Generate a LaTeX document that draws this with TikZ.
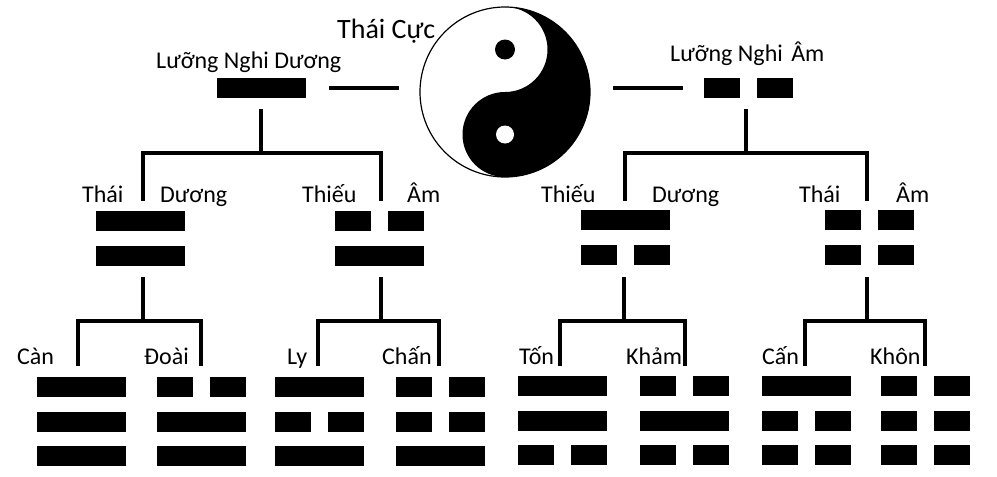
\documentclass[tikz,border=0pt]{standalone}
\usepackage{fontspec}
\setmainfont{Carlito}
\newcommand\xiangsym[3]{%
  \foreach \b [count=\i from 0] in {#3}{%
    \pgfmathsetmacro\yy{#2+\i*34.5}%
    \ifnum\b=1
      \fill (#1,\yy) rectangle ++(89,20);
    \else
      \fill (#1,\yy) rectangle ++(36,20);
      \fill ({#1+53},\yy) rectangle ++(36,20);
    \fi
  }}
\begin{document}
\begin{tikzpicture}[x=1pt,y=-1pt,
  lbl/.style={anchor=base west, inner sep=0pt, font=\fontsize{24}{28}\selectfont},
  biglbl/.style={anchor=base west, inner sep=0pt, font=\fontsize{28}{32}\selectfont},
  conn/.style={line width=3.5pt},
]
\fill[white] (0,0) rectangle (997,477);
\useasboundingbox (0,0) rectangle (997,477);

% Thai Cuc (yin-yang)
\begin{scope}[shift={(505,92)},yscale=-1]
  \fill[white] (0,0) circle[radius=85];
  \fill[black] (0,85) arc[start angle=90,end angle=-90,radius=85]
     arc[start angle=-90,end angle=-270,radius=42.5]
     arc[start angle=-90,end angle=90,radius=42.5] -- cycle;
  \fill[black] (0,42.5) circle[radius=10];
  \fill[white] (0,-42.5) circle[radius=9];
  \draw[line width=1.2pt] (0,0) circle[radius=85];
\end{scope}
\node[biglbl] (tclabel) at (337,38) {Thái Cực};

% Luong Nghi
\node[lbl] (lnd) at (156,68) {Lưỡng Nghi Dương};
\node[lbl] (lna) at (670,61) {Lưỡng Nghi\hspace{3pt} Âm};
\xiangsym{217}{78}{1}
\xiangsym{704}{78}{0}
\coordinate (dL1) at (329,88); \coordinate (dL2) at (399,88);
\coordinate (aL1) at (613,88); \coordinate (aL2) at (683,88);
\draw[conn] (dL1) -- (dL2);
\draw[conn] (aL1) -- (aL2);

% Level 1 -> 2 connectors
\coordinate (pD) at (261,109); \coordinate (jD) at (261,153);
\coordinate (cTD) at (143,201); \coordinate (cTA) at (381,201);
\draw[conn] (pD) -- (jD);
\draw[conn] (cTD) |- (jD) -| (cTA);
\coordinate (pA) at (746,109); \coordinate (jA) at (746,153);
\coordinate (cTiD) at (625,201); \coordinate (cThA) at (867,201);
\draw[conn] (pA) -- (jA);
\draw[conn] (cTiD) |- (jA) -| (cThA);

% Tu Tuong
\node[lbl] (l1) at (82,202) {Thái};
\node[lbl] (l2) at (160,202) {Dương};
\node[lbl] (l3) at (302,202) {Thiếu};
\node[lbl] (l4) at (407,202) {Âm};
\node[lbl] (l5) at (541,202) {Thiếu};
\node[lbl] (l6) at (652,202) {Dương};
\node[lbl] (l7) at (799,202) {Thái};
\node[lbl] (l8) at (896,202) {Âm};
\xiangsym{96}{211}{1,1}
\xiangsym{335}{211}{0,1}
\xiangsym{581}{210}{1,0}
\xiangsym{825}{210}{0,0}

% Level 2 -> 3 connectors
\coordinate (p1) at (143,277); \coordinate (j1) at (143,321);
\coordinate (c1a) at (78,366); \coordinate (c1b) at (201,366);
\draw[conn] (p1) -- (j1); \draw[conn] (c1a) |- (j1) -| (c1b);
\coordinate (p2) at (381,277); \coordinate (j2) at (381,321);
\coordinate (c2a) at (318,366); \coordinate (c2b) at (439,366);
\draw[conn] (p2) -- (j2); \draw[conn] (c2a) |- (j2) -| (c2b);
\coordinate (p3) at (624,277); \coordinate (j3) at (624,321);
\coordinate (c3a) at (560,366); \coordinate (c3b) at (685,366);
\draw[conn] (p3) -- (j3); \draw[conn] (c3a) |- (j3) -| (c3b);
\coordinate (p4) at (867,277); \coordinate (j4) at (867,321);
\coordinate (c4a) at (805,366); \coordinate (c4b) at (925,366);
\draw[conn] (p4) -- (j4); \draw[conn] (c4a) |- (j4) -| (c4b);

% Bat Quai
\node[lbl] (t1) at (17,364) {Càn};
\node[lbl] (t2) at (144,364) {Đoài};
\node[lbl] (t3) at (287,364) {Ly};
\node[lbl] (t4) at (382,364) {Chấn};
\node[lbl] (t5) at (519,364) {Tốn};
\node[lbl] (t6) at (626,364) {Khảm};
\node[lbl] (t7) at (762,364) {Cấn};
\node[lbl] (t8) at (870,364) {Khôn};
\xiangsym{37}{377}{1,1,1}
\xiangsym{157}{377}{0,1,1}
\xiangsym{275}{377}{1,0,1}
\xiangsym{396}{377}{0,0,1}
\xiangsym{518}{376}{1,1,0}
\xiangsym{640}{376}{0,1,0}
\xiangsym{762}{376}{1,0,0}
\xiangsym{881}{376}{0,0,0}
\end{tikzpicture}
\end{document}
